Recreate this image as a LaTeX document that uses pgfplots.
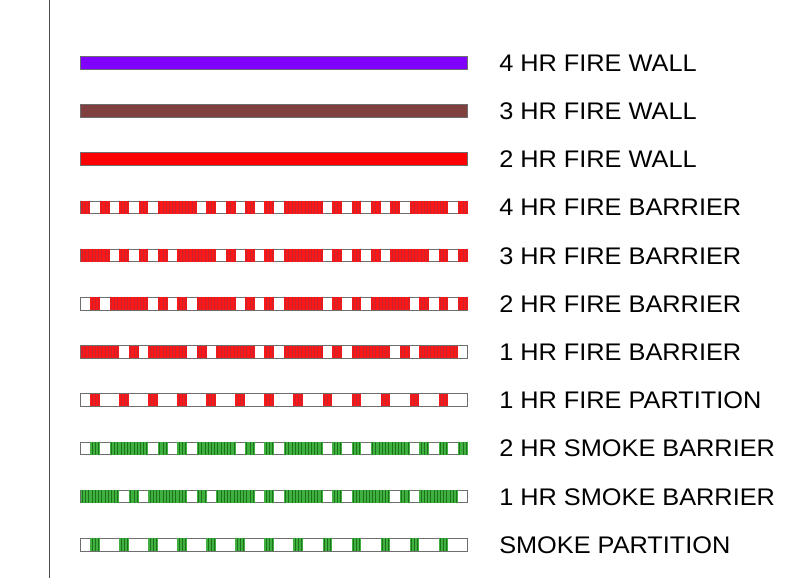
\documentclass[border=0pt]{standalone}
\usepackage{pgfplots}
\pgfplotsset{compat=1.18}
\usepackage{fontspec}
\setmainfont{Liberation Sans}
\definecolor{wallpurple}{RGB}{128,0,255}
\definecolor{wallbrown}{RGB}{128,64,64}
\definecolor{wallred}{RGB}{255,0,0}
\definecolor{firebase}{RGB}{252,24,24}
\definecolor{firedark}{RGB}{200,36,44}
\definecolor{smokebase}{RGB}{64,176,64}
\definecolor{smokedark}{RGB}{28,115,28}
\definecolor{boxgray}{RGB}{110,110,110}
\definecolor{vline}{RGB}{80,80,80}
\tikzset{lbl/.style={anchor=base west, inner sep=0pt, font=\fontsize{24bp}{28bp}\selectfont}}
\newcommand\lbltext[1]{\scalebox{1.055}[1]{#1}}
\pgfdeclareplotmark{firecell}{%
  \pgfpathrectangle{\pgfpoint{-4.9bp}{-6.35bp}}{\pgfpoint{9.8bp}{12.7bp}}%
  \pgfsetfillcolor{firebase}\pgfusepathqfill
  \pgfsetstrokecolor{firedark}\pgfsetlinewidth{0.65bp}%
  \pgfpathmoveto{\pgfpoint{-3.2bp}{-6.3bp}}\pgfpathlineto{\pgfpoint{-3.2bp}{6.3bp}}%
  \pgfpathmoveto{\pgfpoint{0bp}{-6.3bp}}\pgfpathlineto{\pgfpoint{0bp}{6.3bp}}%
  \pgfpathmoveto{\pgfpoint{3.2bp}{-6.3bp}}\pgfpathlineto{\pgfpoint{3.2bp}{6.3bp}}%
  \pgfusepathqstroke
}
\pgfdeclareplotmark{smokecell}{%
  \pgfpathrectangle{\pgfpoint{-4.9bp}{-6.35bp}}{\pgfpoint{9.8bp}{12.7bp}}%
  \pgfsetfillcolor{smokebase}\pgfusepathqfill
  \pgfsetstrokecolor{smokedark}\pgfsetlinewidth{0.65bp}%
  \pgfpathmoveto{\pgfpoint{-3.2bp}{-6.3bp}}\pgfpathlineto{\pgfpoint{-3.2bp}{6.3bp}}%
  \pgfpathmoveto{\pgfpoint{0bp}{-6.3bp}}\pgfpathlineto{\pgfpoint{0bp}{6.3bp}}%
  \pgfpathmoveto{\pgfpoint{3.2bp}{-6.3bp}}\pgfpathlineto{\pgfpoint{3.2bp}{6.3bp}}%
  \pgfusepathqstroke
}
\begin{document}
\begin{tikzpicture}
\begin{axis}[
  at={(0,0)}, anchor=south west,
  scale only axis, width=796bp, height=578bp,
  xmin=-8.841, xmax=73.433, ymin=0, ymax=578, y dir=reverse,
  axis lines=none, clip=false,
  every axis plot/.append style={line join=miter}
]
% vertical rule
\addplot[vline, line width=1.3bp] coordinates {(-3.75,0)(-3.75,578)};
% solid walls
\addplot[fill=wallpurple, draw=boxgray, line width=0.8bp] coordinates {(-0.5,56.35)(39.5,56.35)(39.5,69.05)(-0.5,69.05)} --cycle;
\addplot[fill=wallbrown, draw=boxgray, line width=0.8bp] coordinates {(-0.5,104.55)(39.5,104.55)(39.5,117.25)(-0.5,117.25)} --cycle;
\addplot[fill=wallred, draw=boxgray, line width=0.8bp] coordinates {(-0.5,152.75)(39.5,152.75)(39.5,165.45)(-0.5,165.45)} --cycle;
% 4 HR FIRE BARRIER
\addplot[only marks, mark=firecell] coordinates {
(0,207.3)(2,207.3)(4,207.3)(6,207.3)(8,207.3)(9,207.3)(10,207.3)(11,207.3)(13,207.3)(15,207.3)(17,207.3)(19,207.3)
(21,207.3)(22,207.3)(23,207.3)(24,207.3)(26,207.3)(28,207.3)(30,207.3)(32,207.3)(34,207.3)(35,207.3)(36,207.3)(37,207.3)(39,207.3)};
% 3 HR FIRE BARRIER
\addplot[only marks, mark=firecell] coordinates {
(0,255.5)(1,255.5)(2,255.5)(4,255.5)(6,255.5)(8,255.5)(10,255.5)(11,255.5)(12,255.5)(13,255.5)(15,255.5)(17,255.5)(19,255.5)
(21,255.5)(22,255.5)(23,255.5)(24,255.5)(26,255.5)(28,255.5)(30,255.5)(32,255.5)(33,255.5)(34,255.5)(35,255.5)(37,255.5)(39,255.5)};
% 2 HR FIRE BARRIER
\addplot[only marks, mark=firecell] coordinates {
(1,303.7)(3,303.7)(4,303.7)(5,303.7)(6,303.7)(8,303.7)(10,303.7)(12,303.7)(13,303.7)(14,303.7)(15,303.7)(17,303.7)(19,303.7)
(21,303.7)(22,303.7)(23,303.7)(24,303.7)(26,303.7)(28,303.7)(30,303.7)(31,303.7)(32,303.7)(33,303.7)(35,303.7)(37,303.7)(39,303.7)};
% 1 HR FIRE BARRIER
\addplot[only marks, mark=firecell] coordinates {
(0,351.9)(1,351.9)(2,351.9)(3,351.9)(5,351.9)(7,351.9)(8,351.9)(9,351.9)(10,351.9)(12,351.9)(14,351.9)(15,351.9)(16,351.9)(17,351.9)(19,351.9)
(21,351.9)(22,351.9)(23,351.9)(24,351.9)(26,351.9)(28,351.9)(29,351.9)(30,351.9)(31,351.9)(33,351.9)(35,351.9)(36,351.9)(37,351.9)(38,351.9)};
% 1 HR FIRE PARTITION
\addplot[only marks, mark=firecell] coordinates {
(1,400.1)(4,400.1)(7,400.1)(10,400.1)(13,400.1)(16,400.1)(19,400.1)(22,400.1)(25,400.1)(28,400.1)(31,400.1)(34,400.1)(37,400.1)};
% 2 HR SMOKE BARRIER
\addplot[only marks, mark=smokecell] coordinates {
(1,448.3)(3,448.3)(4,448.3)(5,448.3)(6,448.3)(8,448.3)(10,448.3)(12,448.3)(13,448.3)(14,448.3)(15,448.3)(17,448.3)(19,448.3)
(21,448.3)(22,448.3)(23,448.3)(24,448.3)(26,448.3)(28,448.3)(30,448.3)(31,448.3)(32,448.3)(33,448.3)(35,448.3)(37,448.3)(39,448.3)};
% 1 HR SMOKE BARRIER
\addplot[only marks, mark=smokecell] coordinates {
(0,496.5)(1,496.5)(2,496.5)(3,496.5)(5,496.5)(7,496.5)(8,496.5)(9,496.5)(10,496.5)(12,496.5)(14,496.5)(15,496.5)(16,496.5)(17,496.5)(19,496.5)
(21,496.5)(22,496.5)(23,496.5)(24,496.5)(26,496.5)(28,496.5)(29,496.5)(30,496.5)(31,496.5)(33,496.5)(35,496.5)(36,496.5)(37,496.5)(38,496.5)};
% SMOKE PARTITION
\addplot[only marks, mark=smokecell] coordinates {
(1,544.7)(4,544.7)(7,544.7)(10,544.7)(13,544.7)(16,544.7)(19,544.7)(22,544.7)(25,544.7)(28,544.7)(31,544.7)(34,544.7)(37,544.7)};
% borders of patterned rows
\addplot[draw=boxgray, line width=0.9bp] coordinates {(-0.5,200.95)(39.5,200.95)(39.5,213.65)(-0.5,213.65)} --cycle;
\addplot[draw=boxgray, line width=0.9bp] coordinates {(-0.5,249.15)(39.5,249.15)(39.5,261.85)(-0.5,261.85)} --cycle;
\addplot[draw=boxgray, line width=0.9bp] coordinates {(-0.5,297.35)(39.5,297.35)(39.5,310.05)(-0.5,310.05)} --cycle;
\addplot[draw=boxgray, line width=0.9bp] coordinates {(-0.5,345.55)(39.5,345.55)(39.5,358.25)(-0.5,358.25)} --cycle;
\addplot[draw=boxgray, line width=0.9bp] coordinates {(-0.5,393.75)(39.5,393.75)(39.5,406.45)(-0.5,406.45)} --cycle;
\addplot[draw=boxgray, line width=0.9bp] coordinates {(-0.5,441.95)(39.5,441.95)(39.5,454.65)(-0.5,454.65)} --cycle;
\addplot[draw=boxgray, line width=0.9bp] coordinates {(-0.5,490.15)(39.5,490.15)(39.5,502.85)(-0.5,502.85)} --cycle;
\addplot[draw=boxgray, line width=0.9bp] coordinates {(-0.5,538.35)(39.5,538.35)(39.5,551.05)(-0.5,551.05)} --cycle;
% labels
\node[lbl] at (axis cs:42.74,71.2) {\lbltext{4 HR FIRE WALL}};
\node[lbl] at (axis cs:42.74,119.4) {\lbltext{3 HR FIRE WALL}};
\node[lbl] at (axis cs:42.74,167.6) {\lbltext{2 HR FIRE WALL}};
\node[lbl] at (axis cs:42.74,215.8) {\lbltext{4 HR FIRE BARRIER}};
\node[lbl] at (axis cs:42.74,264.0) {\lbltext{3 HR FIRE BARRIER}};
\node[lbl] at (axis cs:42.74,312.2) {\lbltext{2 HR FIRE BARRIER}};
\node[lbl] at (axis cs:42.74,360.4) {\lbltext{1 HR FIRE BARRIER}};
\node[lbl] at (axis cs:42.74,408.6) {\lbltext{1 HR FIRE PARTITION}};
\node[lbl] at (axis cs:42.74,456.8) {\lbltext{2 HR SMOKE BARRIER}};
\node[lbl] at (axis cs:42.74,505.0) {\lbltext{1 HR SMOKE BARRIER}};
\node[lbl] at (axis cs:42.74,553.2) {\lbltext{SMOKE PARTITION}};
\end{axis}
\pgfresetboundingbox
\path (0,0) rectangle (796bp,578bp);
\end{tikzpicture}
\end{document}
